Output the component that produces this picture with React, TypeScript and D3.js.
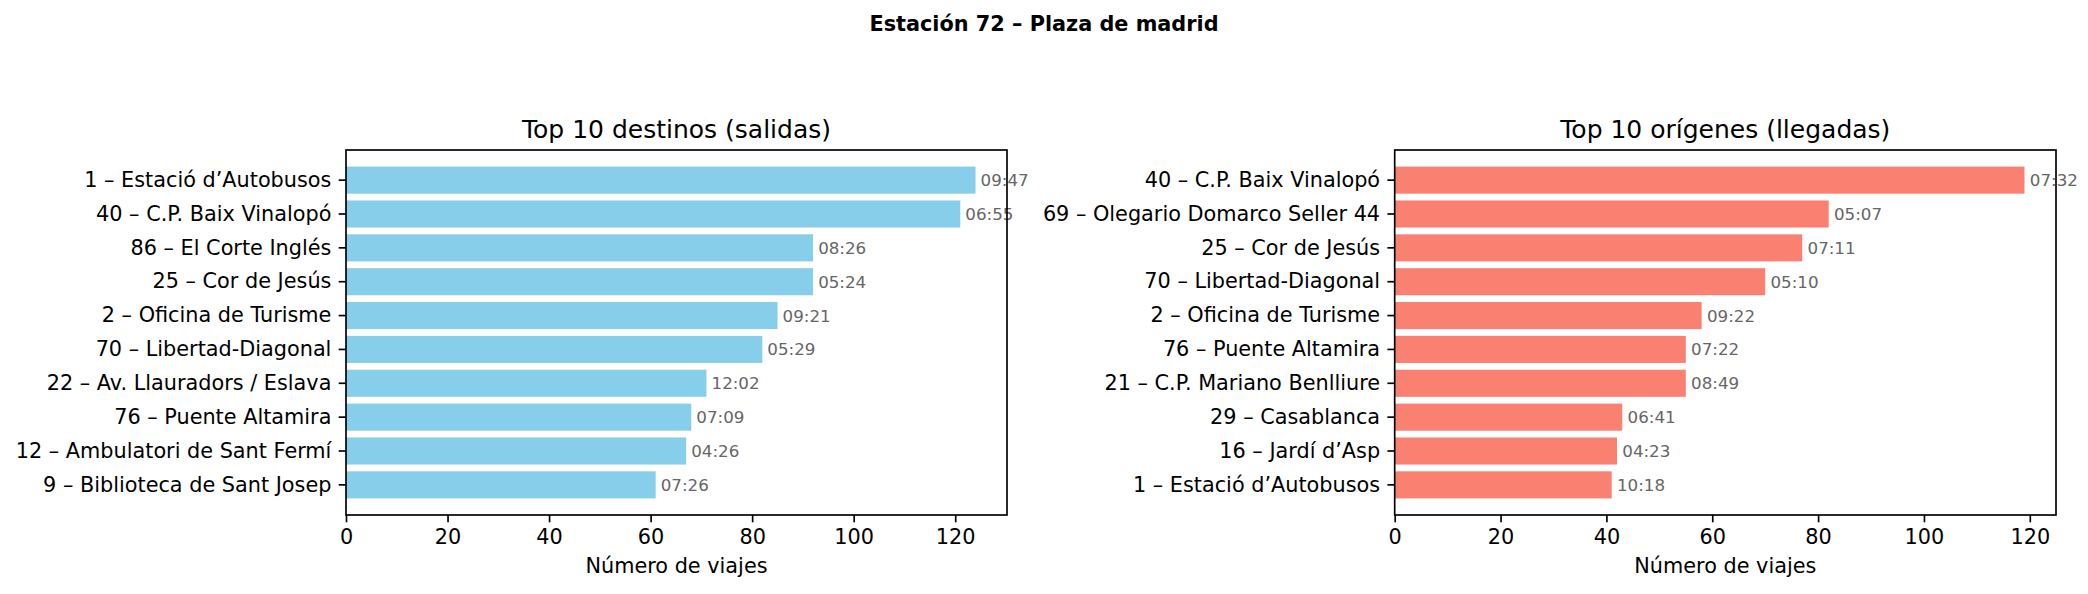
import React, { useEffect, useRef } from "react";
import * as d3 from "d3";

const destinos = [
  "1 – Estació d’Autobusos",
  "40 – C.P. Baix Vinalopó",
  "86 – El Corte Inglés",
  "25 – Cor de Jesús",
  "2 – Oficina de Turisme",
  "70 – Libertad-Diagonal",
  "22 – Av. Llauradors / Eslava",
  "76 – Puente Altamira",
  "12 – Ambulatori de Sant Fermí",
  "9 – Biblioteca de Sant Josep",
];
const viajesSalidas = [124, 121, 92, 92, 85, 82, 71, 68, 67, 61];
const horasSalidas = ["09:47", "06:55", "08:26", "05:24", "09:21", "05:29", "12:02", "07:09", "04:26", "07:26"];

const origenes = [
  "40 – C.P. Baix Vinalopó",
  "69 – Olegario Domarco Seller 44",
  "25 – Cor de Jesús",
  "70 – Libertad-Diagonal",
  "2 – Oficina de Turisme",
  "76 – Puente Altamira",
  "21 – C.P. Mariano Benlliure",
  "29 – Casablanca",
  "16 – Jardí d’Asp",
  "1 – Estació d’Autobusos",
];
const viajesLlegadas = [119, 82, 77, 70, 58, 55, 55, 43, 42, 41];
const horasLlegadas = ["07:32", "05:07", "07:11", "05:10", "09:22", "07:22", "08:49", "06:41", "04:23", "10:18"];

const xTicks = [0, 20, 40, 60, 80, 100, 120];

const W = 2088;
const H = 594;
const FONT = "DejaVu Sans, sans-serif";

export default function App() {
  const ref = useRef<SVGSVGElement>(null);

  useEffect(() => {
    document.body.style.margin = "0";
    const svg = d3.select(ref.current);
    svg.selectAll("*").remove();

    svg.append("rect").attr("width", W).attr("height", H).attr("fill", "white");

    svg.append("text")
      .attr("x", W / 2).attr("y", 31)
      .attr("text-anchor", "middle")
      .style("font-family", FONT).style("font-size", "20.8px").style("font-weight", "bold")
      .text("Estación 72 – Plaza de madrid");

    const top = 150, bottom = 515;

    const panel = (x0: number, x1: number, cats: string[], vals: number[], labels: string[], color: string, title: string) => {
      const g = svg.append("g");
      const x = d3.scaleLinear().domain([0, d3.max(vals)! * 1.05]).range([x0, x1]);
      const y = d3.scaleBand().domain(cats).range([top, bottom]).paddingInner(0.2).paddingOuter(0.49);

      g.selectAll(".bar")
        .data(vals)
        .enter()
        .append("rect")
        .attr("x", x(0))
        .attr("y", (d, i) => y(cats[i])!)
        .attr("width", d => x(d) - x(0))
        .attr("height", y.bandwidth())
        .attr("fill", color);

      g.selectAll(".lbl")
        .data(vals)
        .enter()
        .append("text")
        .attr("x", d => x(d + 1))
        .attr("y", (d, i) => y(cats[i])! + y.bandwidth() / 2)
        .attr("dy", "0.36em")
        .style("font-family", FONT).style("font-size", "16.7px")
        .attr("fill", "#666666")
        .text((d, i) => labels[i]);

      const xa = g.append("g")
        .attr("transform", `translate(0,${bottom})`)
        .call(d3.axisBottom(x).tickValues(xTicks).tickSize(7.3).tickPadding(7.3).tickSizeOuter(0));
      const ya = g.append("g")
        .attr("transform", `translate(${x0},0)`)
        .call(d3.axisLeft(y).tickSize(7.3).tickPadding(7.3).tickSizeOuter(0));
      [xa, ya].forEach(a => {
        a.select(".domain").remove();
        a.selectAll("line").attr("stroke", "#000").attr("stroke-width", 1.67);
        a.selectAll("text").style("font-family", FONT).style("font-size", "20.8px").attr("fill", "#000");
      });

      g.append("rect")
        .attr("x", x0).attr("y", top)
        .attr("width", x1 - x0).attr("height", bottom - top)
        .attr("fill", "none").attr("stroke", "#000").attr("stroke-width", 1.67);

      g.append("text")
        .attr("x", (x0 + x1) / 2).attr("y", 138)
        .attr("text-anchor", "middle")
        .style("font-family", FONT).style("font-size", "25px")
        .text(title);

      g.append("text")
        .attr("x", (x0 + x1) / 2).attr("y", 573)
        .attr("text-anchor", "middle")
        .style("font-family", FONT).style("font-size", "20.8px")
        .text("Número de viajes");
    };

    panel(346, 1007, destinos, viajesSalidas, horasSalidas, "#87CEEB", "Top 10 destinos (salidas)");
    panel(1394.7, 2056, origenes, viajesLlegadas, horasLlegadas, "#FA8072", "Top 10 orígenes (llegadas)");
  }, []);

  return <svg ref={ref} width={W} height={H} style={{ display: "block" }} />;
}
